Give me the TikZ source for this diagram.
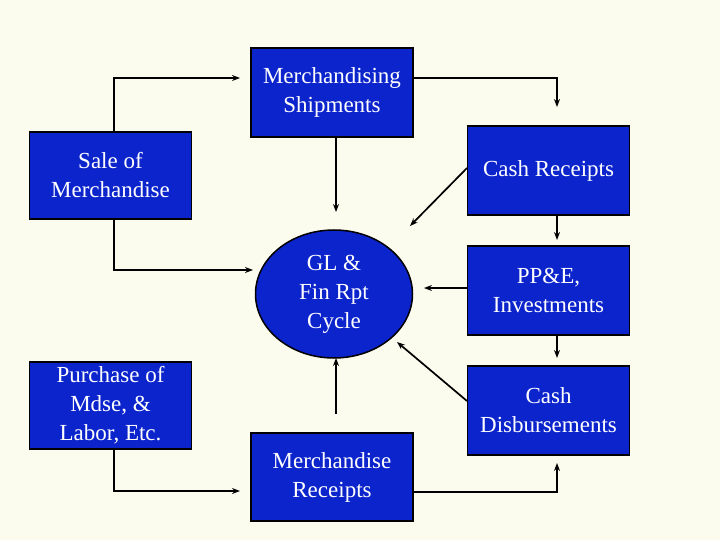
\documentclass[tikz,border=0pt]{standalone}
\usepackage{fontspec}
\setmainfont{Liberation Serif}
\usetikzlibrary{arrows.meta,shapes.geometric}
\definecolor{bg}{RGB}{252,252,238}
\definecolor{boxblue}{RGB}{12,36,204}
\begin{document}
\begin{tikzpicture}[x=1pt,y=-1pt,
  bx/.style={draw=black,line width=1.2pt,fill=boxblue,text=white,font=\fontsize{23}{29}\selectfont,align=center,minimum width=162pt,minimum height=89pt,inner sep=0pt},
  con/.style={line width=1.7pt,-{Stealth[length=8pt,width=6pt]}}]
\fill[bg] (0,0) rectangle (720,540);
\useasboundingbox (0,0) rectangle (720,540);
\node[bx] (ship) at (332,92.5) {Merchandising\\Shipments};
\node[bx,minimum height=87pt] (sale) at (110.5,175.5) {Sale of\\Merchandise};
\node[bx] (cr) at (548.5,170.5) {Cash Receipts};
\node[bx] (ppe) at (548.5,290.5) {PP\&E,\\Investments};
\node[bx,minimum height=87pt] (pur) at (110.5,405.5) {Purchase of\\Mdse, \&\\Labor, Etc.};
\node[bx] (cd) at (548.5,410.5) {Cash\\Disbursements};
\node[bx,minimum height=88pt] (mr) at (332,477) {Merchandise\\Receipts};
\node[draw=black,line width=1.5pt,fill=boxblue,text=white,ellipse,font=\fontsize{23}{29}\selectfont,align=center,minimum width=157pt,minimum height=128pt,inner sep=0pt] (gl) at (334,294) {GL \&\\Fin Rpt\\Cycle};
\coordinate (a1) at (114,132); \coordinate (a2) at (240,78);
\draw[con] (a1) |- (a2);
\coordinate (b1) at (413,78); \coordinate (b2) at (557,107);
\draw[con] (b1) -| (b2);
\coordinate (c1) at (336,137); \coordinate (c2) at (336,212);
\draw[con] (c1) -- (c2);
\coordinate (d1) at (467,168); \coordinate (d2) at (410,226);
\draw[con] (d1) -- (d2);
\coordinate (e1) at (557,215); \coordinate (e2) at (557,240);
\draw[con] (e1) -- (e2);
\coordinate (f1) at (467,288); \coordinate (f2) at (424,288);
\draw[con] (f1) -- (f2);
\coordinate (g1) at (557,335); \coordinate (g2) at (557,358);
\draw[con] (g1) -- (g2);
\coordinate (h1) at (467,401); \coordinate (h2) at (397,342);
\draw[con] (h1) -- (h2);
\coordinate (i1) at (336,414); \coordinate (i2) at (336,358);
\draw[con] (i1) -- (i2);
\coordinate (j1) at (114,219); \coordinate (j2) at (253,270);
\draw[con] (j1) |- (j2);
\coordinate (k1) at (114,449); \coordinate (k2) at (240,491);
\draw[con] (k1) |- (k2);
\coordinate (l1) at (413,492); \coordinate (l2) at (557,463);
\draw[con] (l1) -| (l2);
\end{tikzpicture}
\end{document}
